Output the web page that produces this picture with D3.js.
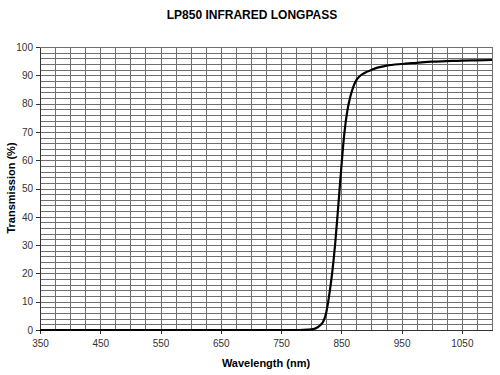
<!DOCTYPE html>
<meta charset="utf-8">
<head>
  <style>
    body { margin: 0; background: #fff; }
    .grid line { stroke: #707070; stroke-width: 1px; shape-rendering: crispEdges; }
    .axis text { font: 10px "Liberation Sans", Arial, sans-serif; fill: #333; }
    .axis path, .axis line { stroke: #333; shape-rendering: crispEdges; }
    .title { font: bold 12px "Liberation Sans", Arial, sans-serif; }
    .label { font: bold 11px "Liberation Sans", Arial, sans-serif; }
  </style>
</head>
<body>
  <script src="https://d3js.org/d3.v7.min.js"></script>
  <div id="chart"></div>
  <script>
    var wavelength = [350, 400, 500, 600, 700, 780, 795, 805, 810, 815, 820, 825, 830, 835, 840, 845, 850,
      855, 860, 865, 870, 875, 880, 885, 890, 900, 910, 925, 950, 975, 1000, 1025, 1050, 1075, 1100];
    var transmission = [0, 0, 0, 0, 0, 0, 0.1, 0.4, 0.9, 1.7, 3.0, 6.2, 12.5, 20.5, 31, 44, 57.5,
      69.5, 77.5, 82.5, 86, 88.3, 89.6, 90.4, 91, 91.9, 92.7, 93.4, 94, 94.4, 94.8, 95.0, 95.2, 95.3, 95.4];
    var xTicks = [350, 450, 550, 650, 750, 850, 950, 1050];
    var yTicks = [0, 10, 20, 30, 40, 50, 60, 70, 80, 90, 100];

    var width = 500,
      height = 375;

    var svg = d3.select('#chart')
      .append('svg')
      .attr('width', width)
      .attr('height', height);

    var x = d3.scaleLinear().domain([350, 1100]).range([40, 492]);
    var y = d3.scaleLinear().domain([0, 100]).range([330, 47]);

    // grid
    var grid = svg.append('g').attr('class', 'grid');
    grid.selectAll('.v')
      .data(d3.range(350, 1101, 25))
      .enter().append('line')
      .attr('x1', d => Math.round(x(d)) + 0.5).attr('x2', d => Math.round(x(d)) + 0.5)
      .attr('y1', y(100)).attr('y2', y(0));
    grid.selectAll('.h')
      .data(d3.range(0, 101, 2))
      .enter().append('line')
      .attr('x1', x(350)).attr('x2', x(1100))
      .attr('y1', d => Math.round(y(d)) + 0.5).attr('y2', d => Math.round(y(d)) + 0.5);

    svg.append('g')
      .attr('class', 'axis')
      .attr('transform', 'translate(0,' + y(0) + ')')
      .call(d3.axisBottom(x).tickValues(xTicks).tickFormat(d3.format('d'))
        .tickSize(4).tickSizeOuter(0).tickPadding(6));

    svg.append('g')
      .attr('class', 'axis')
      .attr('transform', 'translate(' + x(350) + ',0)')
      .call(d3.axisLeft(y).tickValues(yTicks).tickSize(4).tickSizeOuter(0).tickPadding(3));

    var line = d3.line()
      .x((d, i) => x(wavelength[i]))
      .y(d => y(d))
      .curve(d3.curveMonotoneX);

    svg.append('path')
      .datum(transmission)
      .attr('fill', 'none')
      .attr('stroke', '#000')
      .attr('stroke-width', 2.2)
      .attr('d', line);

    svg.append('text')
      .attr('class', 'title')
      .attr('x', 252).attr('y', 19)
      .attr('text-anchor', 'middle')
      .text('LP850 INFRARED LONGPASS');

    svg.append('text')
      .attr('class', 'label')
      .attr('x', 266).attr('y', 367)
      .attr('text-anchor', 'middle')
      .text('Wavelength (nm)');

    svg.append('text')
      .attr('class', 'label')
      .attr('transform', 'translate(15,' + 188 + ') rotate(-90)')
      .attr('text-anchor', 'middle')
      .text('Transmission (%)');
  </script>
</body>
